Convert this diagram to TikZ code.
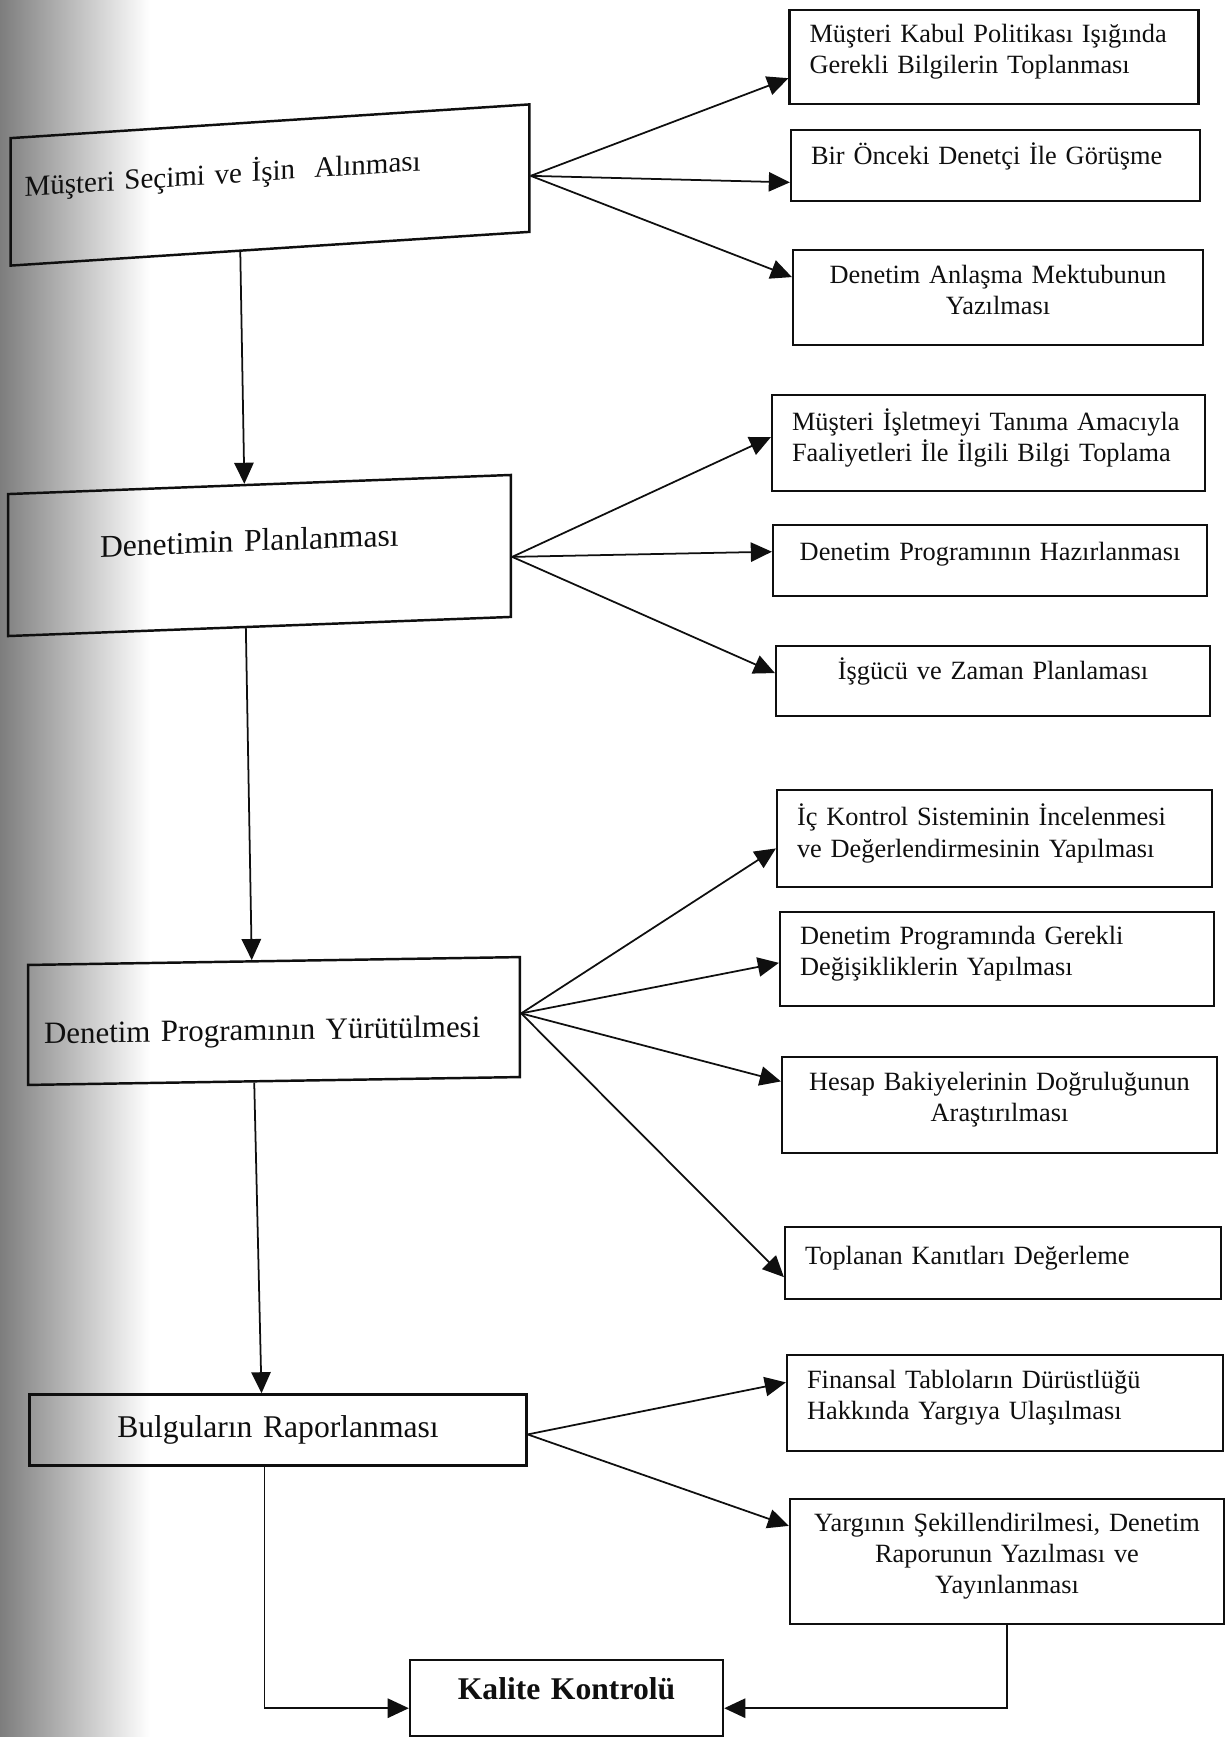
\documentclass[tikz,border=0pt]{standalone}
\usepackage{fontspec}
\setmainfont{Liberation Serif}
\usepackage{tikz}
\usetikzlibrary{arrows.meta, positioning, calc}
\definecolor{scanGray}{RGB}{125,125,125}
\definecolor{darkText}{RGB}{15,15,15}
\newcommand{\stagefont}{\fontsize{18}{21}\selectfont}
\newcommand{\taskfont}{\fontsize{15}{17.8}\selectfont}
\tikzset{
    lift/.style={execute at end node={\rule[-#1]{0pt}{#1}}},
    drop/.style={execute at begin node={\rule{0pt}{#1}}},
    stage/.style={rectangle, draw=darkText, line width=1.4pt, align=center, text width=#1,
                  inner xsep=0.28cm, inner ysep=0pt, font=\stagefont, text=darkText},
    task/.style={rectangle, draw=darkText, line width=1.3pt, align=left, text width=#1,
                 inner xsep=0.4cm, inner ysep=0pt, font=\taskfont, text=darkText, lift=0.32cm},
    flow/.style={-{Triangle[length=12pt, width=11pt]}, line width=1pt, darkText}
}

\begin{document}
\begin{tikzpicture}[x=0.02cm, y=-0.02cm]
    \useasboundingbox (0,0) rectangle (1226,1737);
    \shade[left color=scanGray, right color=white] (0,0) rectangle (150,1737);
    % main stages
    \node[stage=9.82cm, align=left, font=\fontsize{16.5}{19}\selectfont, minimum height=2.55cm, lift=0.66cm,
          yslant=0.065, transform shape] (b1) at (270,185) {Müşteri Seçimi ve İşin~ Alınması};
    \node[stage=6.38cm, align=left, inner xsep=1.84cm, minimum height=2.84cm, lift=0.62cm,
          yslant=0.038, transform shape] (b2) at (259.5,555.5) {Denetimin Planlanması};
    \node[stage=9.2cm, align=left, inner xsep=0.32cm, font=\fontsize{17.6}{21}\selectfont, minimum height=2.4cm,
          drop=0.9cm, yslant=0.016, transform shape] (b3) at (274,1021) {Denetim Programının Yürütülmesi};
    \node[stage=9.38cm, minimum height=1.42cm] (b4) at (278,1430) {Bulguların Raporlanması};
    \node[stage=5.7cm, minimum height=1.52cm, lift=0.38cm, font=\fontsize{18}{21}\selectfont\bfseries] (k) at (566.5,1698) {Kalite Kontrolü};
    % tasks
    \node[task=7.38cm, minimum height=1.88cm, lift=0.2cm] (r1) at (994,57) {Müşteri Kabul Politikası Işığında\\Gerekli Bilgilerin Toplanması};
    \node[task=7.38cm, minimum height=1.42cm, lift=0.46cm] (r2) at (995.5,165.5) {Bir Önceki Denetçi İle Görüşme};
    \node[task=7.4cm, align=center, minimum height=1.9cm] (r3) at (998,297.5) {Denetim Anlaşma Mektubunun\\Yazılması};
    \node[task=7.86cm, minimum height=1.92cm] (r4) at (988.5,443) {Müşteri İşletmeyi Tanıma Amacıyla\\Faaliyetleri İle İlgili Bilgi Toplama};
    \node[task=7.88cm, align=center, minimum height=1.42cm, lift=0.36cm] (r5) at (990,560.5) {Denetim Programının Hazırlanması};
    \node[task=7.88cm, align=center, minimum height=1.4cm, lift=0.5cm] (r6) at (993,681) {İşgücü ve Zaman Planlaması};
    \node[task=7.9cm, minimum height=1.94cm] (r7) at (994.5,838.5) {İç Kontrol Sisteminin İncelenmesi\\ve Değerlendirmesinin Yapılması};
    \node[task=7.88cm, minimum height=1.88cm, lift=0.2cm] (r8) at (997,959) {Denetim Programında Gerekli\\Değişikliklerin Yapılması};
    \node[task=7.9cm, align=center, minimum height=1.92cm, lift=0.26cm] (r9) at (999.5,1105) {Hesap Bakiyelerinin Doğruluğunun\\Araştırılması};
    \node[task=7.92cm, minimum height=1.44cm] (r10) at (1003,1263) {Toplanan Kanıtları Değerleme};
    \node[task=7.92cm, minimum height=1.92cm, lift=0.14cm] (r11) at (1005,1403) {Finansal Tabloların Dürüstlüğü\\Hakkında Yargıya Ulaşılması};
    \node[task=7.88cm, align=center, minimum height=2.5cm, lift=0.12cm] (r12) at (1007,1561.5) {Yargının Şekillendirilmesi, Denetim\\Raporunun Yazılması ve\\Yayınlanması};
    % fan-out points
    \coordinate (o1) at ($(b1.north east)!0.56!(b1.south east)$);
    \coordinate (o2) at ($(b2.north east)!0.576!(b2.south east)$);
    \coordinate (o3) at ($(b3.north east)!0.47!(b3.south east)$);
    \coordinate (o4) at ($(b4.north east)!0.56!(b4.south east)$);
    \foreach \src/\dst/\f in {o1/r1/0.72, o1/r2/0.73, o1/r3/0.29, o2/r4/0.44, o2/r5/0.38, o2/r6/0.39,
                              o3/r7/0.6, o3/r8/0.54, o3/r9/0.26, o3/r10/0.69, o4/r11/0.29, o4/r12/0.22}
        \draw[flow] (\src) -- ($(\dst.north west)!\f!(\dst.south west)$);
    % main line
    \draw[flow] ($(b1.south west)!0.443!(b1.south east)$) -- ($(b2.north west)!0.47!(b2.north east)$);
    \draw[flow] ($(b2.south west)!0.473!(b2.south east)$) -- ($(b3.north west)!0.455!(b3.north east)$);
    \draw[flow] ($(b3.south west)!0.46!(b3.south east)$) -- ($(b4.north west)!0.467!(b4.north east)$);
    \draw[flow] ($(b4.south west)!0.473!(b4.south east)$) |- ($(k.north west)!0.63!(k.south west)$);
    \draw[flow] (r12.south) |- ($(k.north east)!0.63!(k.south east)$);
\end{tikzpicture}
\end{document}
